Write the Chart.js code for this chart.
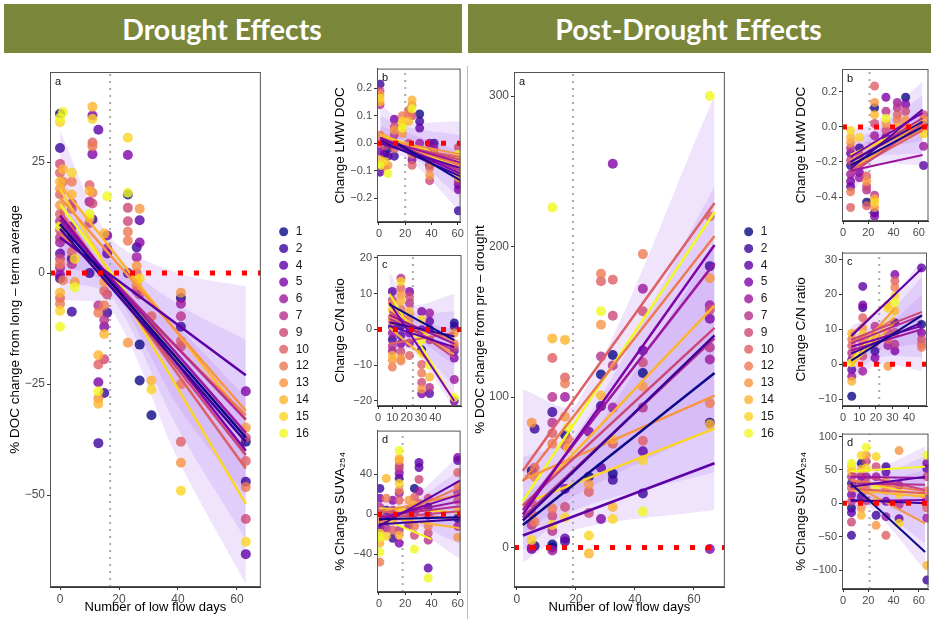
<!DOCTYPE html>
<html>
<head>
<meta charset="utf-8">
<script src="https://cdn.jsdelivr.net/npm/chart.js@4.4.0/dist/chart.umd.min.js"></script>
<style>
  body { margin: 0; width: 931px; height: 619px; overflow: hidden; background: #fff; position: relative; }
  .banner { position: absolute; top: 4px; height: 49px; background: #7a873b; color: #fff; box-sizing: border-box;
    font: bold 28.5px Lato, sans-serif; display: flex; align-items: center; justify-content: center; padding-right: 22px; }
  canvas { position: absolute; }
  .sep { position: absolute; left: 467px; top: 66px; width: 1px; height: 553px; background: #bbb; }
</style>
</head>
<body>
<div class="banner" style="left:4px;width:458px">Drought Effects</div>
<div class="banner" style="left:468px;width:463px">Post-Drought Effects</div>
<div class="sep"></div>
<canvas id="dA" width="320" height="559" style="left:0;top:60px"></canvas>
<canvas id="dB" width="139" height="180" style="left:327px;top:60px"></canvas>
<canvas id="dC" width="139" height="179" style="left:327px;top:245px"></canvas>
<canvas id="dD" width="139" height="188" style="left:327px;top:422px"></canvas>
<canvas id="pA" width="320" height="559" style="left:464px;top:60px"></canvas>
<canvas id="pB" width="143" height="179" style="left:790px;top:60px"></canvas>
<canvas id="pC" width="143" height="180" style="left:790px;top:244px"></canvas>
<canvas id="pD" width="143" height="182" style="left:790px;top:425px"></canvas>
<script>
// sites and plasma colours
const sites = [1, 2, 4, 5, 6, 7, 9, 10, 12, 13, 14, 15, 16];
const siteColors = ["#0d0887", "#3a049a", "#5c01a6", "#7e03a8", "#9c179e", "#b52f8c", "#cc4778",
  "#de5f65", "#ed7953", "#f89540", "#fdb42f", "#fbd524", "#f0f921"];

// ---- Drought effects ----
// points: [site, low flow days, value]
const dA_pts = [
  [1,0,35.9],[16,0,35],[15,0,34],[2,0,28.2],[9,0,24.6],[10,0,22.6],[14,0,20.6],[13,0,19],[10,0,17.7],[13,0,15.3],
  [10,0,13.3],[7,0,11.7],[16,0,10.5],[9,0,9.7],[7,0,8],[6,0,6.9],[4,0,4.4],[9,0,3.2],[12,0,2],[6,0,1.2],[5,0,-0.4],
  [2,0,-1.2],[14,0,-4.4],[10,0,-5.6],[12,0,-6.9],[15,0,-8.5],[16,0,-12.1],
  [16,1,36.3],[14,1,23.4],[12,1,20.6],[12,1,-1.6],
  [15,4,22.6],[12,4,20.6],[14,4,17.7],[7,4,15.7],[9,4,14.5],[5,4,10.5],[4,4,8],[10,4,4.8],[2,4,3.2],[7,4,2],[2,4,-8.7],
  [15,5,3.2],[13,5,-2],[16,5,-3.2],
  [10,10,19.8],[14,10,18.5],[6,10,16.1],[16,10,13.3],[15,10,12.5],[9,10,11.3],[2,10,0],
  [14,11,37.5],[5,11,35.5],[15,11,34.7],[10,11,29.4],[12,11,28.6],[5,11,26.8],[12,11,18.1],[9,11,15.7],[2,11,12.1],
  [4,13,32.3],[7,13,-7.3],[12,13,-8.9],[14,13,-18.5],[10,13,-20.6],[5,13,-24.6],[16,13,-26.6],[13,13,-28.2],[14,13,-29.4],[2,13,-38.3],
  [14,15,8.9],[13,15,-2],[10,15,-4],[12,15,-7.3],[7,15,-10.5],[5,15,-12.1],[14,15,-13.7],[9,15,-19.4],[2,15,-27],
  [16,16,17.3],[5,16,8.5],[6,16,5.6],[4,16,4.4],[9,16,-4.8],[2,16,-8.9],
  [15,23,30.5],[5,23,26.6],[16,23,18.1],[1,23,17.7],[9,23,14.7],[9,23,11.7],[12,23,9.3],[12,23,7.3],[4,23,0],[13,23,-15.7],
  [2,26,5.8],[6,26,3.6],[13,26,1.6],[10,26,0],[14,26,-1.6],[12,26,-2.8],[7,26,-4],
  [13,27,14.5],[4,27,11.9],[5,27,6.9],[15,27,-1.2],[9,27,-4.8],[1,27,-16.1],[1,27,-24.2],
  [10,31,-9.7],[14,31,-24.2],[15,31,-26.2],[1,31,-32],
  [13,41,-4.4],[1,41,-5.6],[6,41,-6.9],[7,41,-9.7],[2,41,-12.1],[10,41,-15.3],[9,41,-16.5],[12,41,-25],[10,41,-38],[13,41,-42.7],[15,41,-49],
  [5,63,-26.6],[13,63,-34.8],[9,63,-37.1],[1,63,-38],[10,63,-42.3],[2,63,-47],[12,63,-48.2],[9,63,-55.4],[15,63,-60.5],[4,63,-63.3]
];
// fitted lines: [site, x0, y0, x1, y1]
const dA_lines = [
  [1,0,11,63,-37],[2,0,10,63,-38],[4,0,8,63,-23],[5,0,13,63,-40],[6,0,12,63,-36],[7,0,11,63,-33],[9,0,12,63,-41],
  [10,0,14,63,-44],[12,0,9,63,-32],[13,0,17,63,-31],[14,0,20,63,-33],[15,0,19,63,-52],[16,0,15.5,41,-21]
];
const dA_bandX = [0, 17, 40, 63];
const dA_bandLo = [[2,-3,-30,-50],[-2,-5,-35,-60],[-6,-8,-42,-70]];
const dA_bandHi = [[16,3,-12,-28],[22,5,-7,-15],[32,8,0,-3]];

const dB_pts = [
  [2,0.8,0.214],[9,0.8,0.19],[13,0.8,0.176],[15,0.8,0.163],[14,0.8,0.15],[7,0.8,0.14],[12,0.8,0.03],[10,0.8,0],
  [5,0.8,-0.03],[14,0.8,-0.06],[16,0.8,-0.08],[4,0.8,-0.105],
  [13,4.4,0.017],[9,4.4,-0.01],[2,4.4,-0.04],[15,4.4,-0.066],[12,4.4,-0.085],
  [1,6.8,-0.02],[4,6.8,-0.047],[13,6.8,-0.08],[16,6.8,-0.11],
  [5,11.7,0.087],[9,11.7,0.06],[13,11.7,0.048],[7,11.7,0.03],[6,11.7,0],[10,11.7,-0.02],[2,11.7,-0.047],
  [12,17.8,0.1],[15,17.8,0.08],[14,17.8,0.068],[16,17.8,0.055],[13,17.8,0.036],
  [10,22.7,0.12],[12,22.7,0.106],[14,22.7,0.08],[9,22.7,0],
  [14,25.2,0.157],[13,25.2,0.138],[16,25.2,0.125],[9,25.2,0.1],[12,25.2,-0.04],[5,25.2,-0.06],[10,25.2,-0.08],
  [1,31,0.106],[2,31,0.08],[4,31,0.055],[6,31,0],[7,31,-0.03],
  [5,38.6,0],[9,38.6,-0.03],[10,38.6,-0.066],[4,38.6,-0.08],[12,38.6,-0.09],[13,38.6,-0.117],[9,38.6,-0.136],
  [2,42,0],[6,42,-0.02],[13,42,-0.04],
  [9,60.5,-0.015],[16,60.5,-0.04],[15,60.5,-0.066],[12,60.5,-0.085],[16,60.5,-0.104],[14,60.5,-0.124],[7,60.5,-0.136],
  [4,60.5,-0.15],[5,60.5,-0.168],[2,60.5,-0.245]
];
const dB_lines = [
  [1,12,0.005,62,-0.135],[2,1,0.01,62,-0.12],[4,1,0,62,-0.09],[5,1,0.02,62,-0.11],[6,1,0.015,62,-0.07],[7,1,0.02,62,-0.1],
  [9,1,0.01,62,-0.06],[10,1,0,62,-0.05],[12,1,0.02,62,-0.08],[13,1,0.015,62,-0.04],[14,1,0.03,62,-0.075],[15,1,0.025,62,-0.09],[16,1,0.03,62,-0.065]
];
const dB_bandX = [1, 20, 62];
const dB_bandLo = [[-0.01,-0.01,-0.15],[-0.04,-0.03,-0.2],[-0.07,-0.05,-0.25]];
const dB_bandHi = [[0.06,0.04,-0.03],[0.1,0.06,0.03],[0.14,0.08,0.08]];

const dC_pts = [
  [4,10,10.6],[9,10,8.2],[13,10,7.2],[14,10,5.4],[10,10,3.5],[12,10,2.2],[2,10,0.8],[6,10,-1],[2,10,-2.8],[7,10,-4.6],
  [6,10,-6],[14,10,-7.3],[13,10,-8.6],[12,10,-10.5],
  [7,16,14.3],[15,16,13.4],[10,16,11.5],[13,16,9.7],[14,16,7.9],[12,16,5.6],[6,16,3.3],[2,16,1],[4,16,-1.7],[5,16,-4],
  [9,16,-6.2],[13,16,-8],[12,16,-8.8],
  [5,22,10.6],[9,22,9.2],[7,22,7.3],[14,22,5],[12,22,3.1],[2,22,0.9],[5,22,-1],[6,22,-3.8],[10,22,-7.3],
  [5,30.5,5],[15,30.5,2.8],[4,30.5,-0.1],[16,30.5,-2.9],[1,30.5,-5.7],[16,30.5,-6.6],[10,30.5,-9.8],[12,30.5,-12.2],
  [9,30.5,-14.8],[13,30.5,-16.7],[5,30.5,-18],
  [6,36,4.6],[4,36,2.3],[2,36,0],[7,36,-2.9],[16,36,-10],[14,36,-13.3],[7,36,-16.2],[4,36,-17.9],
  [1,53.3,1.8],[2,53.3,0.8],[13,53.3,-1],[12,53.3,-4],[9,53.3,-5],[4,53.3,-6],[5,53.3,-8],[6,53.3,-14],[16,53.3,-19],[5,53.3,-20]
];
const dC_lines = [
  [1,8,7,53.3,-3],[2,8,2,53.3,-2],[4,8,1,53.3,-5],[5,8,7.5,53.3,-20],[6,8,4,53.3,-4],[7,8,3,53.3,-6],[9,8,5,53.3,-8],
  [10,8,-4,53.3,-1],[12,8,2.5,53.3,-3],[13,8,3.5,53.3,-7],[14,8,0.5,36,-9],[15,8,6,36,-2],[16,8,10,53.3,-20]
];
const dC_bandX = [8, 24, 53.3];
const dC_bandLo = [[-1,-2,-10],[-4,-4,-16],[-7,-6,-22]];
const dC_bandHi = [[8,3,0],[12,5,5],[16,7,10]];

const dD_pts = [
  [2,0.7,26],[5,0.7,16],[7,0.7,7],[10,0.7,1],[13,0.7,-6],[4,0.7,-13],[15,0.7,-19],[16,0.7,-23],[14,0.7,-29],[16,0.7,-38],[12,0.7,-48],
  [14,5.6,36],[12,5.6,16],[2,5.6,4],[9,5.6,-6],[7,5.6,-14],[15,5.6,-22],
  [5,10.5,14],[7,10.5,4],[13,10.5,-6],[10,10.5,-16],[2,10.5,-24],
  [16,15.4,64],[14,15.4,56],[13,15.4,54],[9,15.4,49],[7,15.4,46],[5,15.4,41],[2,15.4,36],[15,15.4,31],[12,15.4,24],
  [6,15.4,21],[10,15.4,14],[14,15.4,4],[7,15.4,-16],[14,15.4,-21],[5,15.4,-29],
  [13,22.7,14],[9,22.7,4],[12,22.7,-6],[6,22.7,-11],
  [1,27,26],[10,27,17],[14,27,9],[7,27,1],[12,27,-12],[9,27,-21],[16,27,-35],
  [4,30.5,52],[4,30.5,47],[9,30.5,35],[6,30.5,23],[10,30.5,11],
  [9,37.5,16],[2,37.5,7],[5,37.5,-1],[12,37.5,-12],[9,37.5,-19],[7,37.5,-26],[4,37.5,-54],[16,37.5,-64],
  [5,60,57],[4,60,54],[10,60,42],[12,60,29],[7,60,22],[9,60,14],[14,60,4],[1,60,-4],[6,60,-12],[13,60,-23]
];
const dD_lines = [
  [1,0,-5,62,-3],[2,0,-10,62,-5],[4,0,-12,62,34],[5,0,-6,62,20],[6,0,-3,62,13],[7,0,-2,62,8],[9,0,-4,62,3],
  [10,0,3,62,-5],[12,0,-8,62,27],[13,0,2,62,20],[14,0,-2,62,-14],[15,0,6,62,2],[16,0,-3,40,-25]
];
const dD_bandX = [0, 20, 62];
const dD_bandLo = [[-15,-5,-15],[-22,-8,-30],[-30,-12,-45]];
const dD_bandHi = [[5,5,30],[10,8,45],[15,12,60]];

// ---- Post-drought effects ----
const pA_pts = [
  [13,5,83],[1,5,51],[9,5,30],[10,5,22.5],[7,5,15],[15,5,5],[6,5,0],[4,5,-1],
  [2,6,79],[10,6,53],[12,6,47],[12,6,17],[1,6,1],
  [16,12,226],[14,12,139],[10,12,126],[7,12,100],[2,12,90],[7,12,83],[10,12,76],[12,12,69],[12,12,26],[9,12,21],
  [15,12,15],[7,12,11],[1,12,2],[1,12,0],[6,12,-2],
  [14,16.3,138],[10,16.3,113],[12,16.3,109],[6,16.3,100],[13,16.3,87],[1,16.3,75],[9,16.3,68],[5,16.3,39],[9,16.3,27],
  [15,16.3,20],[4,16.3,6],[2,16.3,4],
  [16,17.3,80],[12,17.3,72],[14,17.3,66],
  [5,24.4,77],[1,24.4,47],[13,24.4,42],[10,24.4,37],[9,24.4,23],[15,24.4,8],[14,24.4,-4],
  [12,28.5,182],[10,28.5,177],[16,28.5,157],[13,28.5,148],[7,28.5,127],[1,28.5,115],[14,28.5,101],[2,28.5,94],[4,28.5,53],[5,28.5,19],
  [5,32.5,255],[10,32.5,178],[9,32.5,154],[1,32.5,128],[7,32.5,121],[6,32.5,93],[14,32.5,72],[10,32.5,69],[1,32.5,49],
  [2,32.5,45],[14,32.5,27],[15,32.5,19],
  [12,42.7,195],[6,42.7,172],[9,42.7,157],[4,42.7,131],[9,42.7,123],[1,42.7,116],[13,42.7,107],[7,42.7,93],[10,42.7,71],
  [4,42.7,64],[15,42.7,58],[2,42.7,36],[16,42.7,24],
  [16,65.4,300],[10,65.4,220],[2,65.4,187],[13,65.4,179],[6,65.4,161],[9,65.4,158],[5,65.4,152],[7,65.4,133],[6,65.4,125],
  [12,65.4,96],[1,65.4,83],[14,65.4,82],[5,65.4,-1]
];
const pA_lines = [
  [1,2,15,67,116],[2,2,18,67,141],[4,2,8,67,56],[5,2,22,67,201],[6,2,25,67,189],[7,2,20,67,139],[9,2,28,67,146],
  [10,2,51,67,229],[12,2,44,67,207],[13,2,45,67,101],[14,2,27,67,161],[15,2,29,67,79],[16,2,31,67,223]
];
const pA_bandX = [2, 20, 67];
const pA_bandLo = [[8,35,80],[-2,25,50],[-10,12,25]];
const pA_bandHi = [[35,60,200],[60,75,240],[105,95,300]];

const pB_pts = [
  [15,6,-0.02],[14,6,-0.06],[13,6,-0.09],[7,6,-0.12],[4,6,-0.15],[9,6,-0.19],[2,6,-0.22],[6,6,-0.27],[5,6,-0.31],
  [4,6,-0.34],[12,6,-0.37],[10,6,-0.46],
  [15,13,-0.06],[2,13,-0.12],[9,13,-0.16],[13,13,-0.21],[5,13,-0.26],[6,13,-0.29],
  [10,18.7,-0.28],[13,18.7,-0.31],[9,18.7,-0.34],[7,18.7,-0.36],[1,18.7,-0.43],[10,18.7,-0.45],
  [10,25,0.234],[13,25,0.14],[1,25,0.11],[14,25,0.07],[9,25,0.02],[6,25,-0.05],[7,25,-0.39],[14,25,-0.41],[15,25,-0.43],
  [13,25,-0.46],[2,25,-0.49],[5,25,-0.51],
  [5,34,0.17],[7,34,0.09],[16,34,0.05],[13,34,0.02],[9,34,-0.02],[4,34,-0.06],
  [6,43,0.14],[7,43,0.11],[10,43,0.07],[12,43,0.04],[14,43,0],[15,43,-0.04],
  [1,49.6,0.17],[5,49.6,0.13],[9,49.6,0.09],[13,49.6,0.04],[12,49.6,0.01],[16,49.6,-0.03],
  [9,63.8,0.07],[13,63.8,0.04],[4,63.8,0.01],[14,63.8,-0.01],[15,63.8,-0.04],[6,63.8,-0.11],[4,63.8,-0.22]
];
const pB_lines = [
  [1,6,-0.22,63,0],[2,6,-0.2,63,0.03],[4,6,-0.24,63,0.1],[5,6,-0.17,63,0.08],[6,6,-0.25,63,-0.16],[7,6,-0.2,63,0.05],
  [9,6,-0.27,63,0.02],[10,6,-0.25,63,-0.02],[12,6,-0.22,63,-0.01],[13,6,-0.19,63,0.01],[14,6,-0.24,63,0],[15,6,-0.16,63,0.02],[16,6,-0.16,63,0.03]
];
const pB_bandX = [6, 24, 63];
const pB_bandLo = [[-0.28,-0.14,-0.08],[-0.33,-0.18,-0.15],[-0.4,-0.22,-0.22]];
const pB_bandHi = [[-0.14,-0.06,0.1],[-0.08,-0.02,0.18],[-0.02,0.02,0.26]];

const pC_pts = [
  [14,5.3,8.9],[12,5.3,7.1],[10,5.3,5.3],[7,5.3,3.2],[5,5.3,1.3],[16,5.3,0.4],[4,5.3,-1.6],[6,5.3,-3.5],[14,5.3,-4.9],[1,5.3,-9.2],
  [4,12,22.3],[5,12,17],[2,12,16.2],[10,12,13.3],[13,12,10.4],[15,12,8.5],[12,12,6.1],[7,12,4.2],[9,12,2.3],[6,12,-2],
  [7,19.4,10.9],[13,19.4,8],[9,19.4,6.1],[2,19.4,3.7],[5,19.4,1.8],
  [14,27.3,17],[15,27.3,16],[9,27.3,9],[10,27.3,7],[6,27.3,5.3],[13,27.3,-0.6],
  [5,31.5,25.7],[10,31.5,23.9],[12,31.5,22],[15,31.5,19.6],[16,31.5,17.7],[14,31.5,15.3],[2,31.5,11.9],[9,31.5,9.1],[7,31.5,5.7],[5,31.5,3.8],
  [4,47.7,27.6],[1,47.7,11.4],[5,47.7,9],[9,47.7,7.1],[10,47.7,5.7],[12,47.7,4.8]
];
const pC_lines = [
  [1,5,1,48,14],[2,5,3,48,12],[4,5,8,48,27.5],[5,5,5,48,11],[6,5,4,48,10],[7,5,6,48,14],[9,5,7,48,15],
  [10,5,8.5,31.5,20],[12,5,6,31.5,13],[13,5,2,31.5,16],[14,5,-0.5,31.5,12],[15,5,0,31.5,14],[16,5,1,31.5,16]
];
const pC_bandX = [5, 22, 48];
const pC_bandLo = [[0,4,6],[-3,2,2],[-5,0,-2]];
const pC_bandHi = [[5,9,20],[8,12,25],[11,15,30]];

const pD_pts = [
  [16,6.7,60],[15,6.7,55],[14,6.7,48],[7,6.7,40],[2,6.7,30],[10,6.7,23],[5,6.7,13],[9,6.7,3],[1,6.7,-7],[4,6.7,-14],[9,6.7,-28],[2,6.7,-48],
  [15,14.5,72],[1,14.5,60],[14,14.5,51],[5,14.5,40],[12,14.5,25],[4,14.5,10],[13,14.5,-7],[14,14.5,-18],
  [16,18.4,84],[13,18.4,72],[9,18.4,63],[15,18.4,53],[6,18.4,40],[10,18.4,30],[12,18.4,20],[7,18.4,4],
  [15,26.2,70],[9,26.2,55],[6,26.2,40],[16,26.2,24],[14,26.2,2],[2,26.2,-18],[13,26.2,-33],
  [2,34,55],[4,34,47],[13,34,32],[12,34,20],[5,34,3],[6,34,-20],[10,34,-48],
  [13,44.4,79],[6,44.4,27],[15,44.4,14],[7,44.4,-2],[4,44.4,-23],[15,44.4,-30],
  [16,66.4,72],[5,66.4,60],[4,66.4,52],[9,66.4,40],[12,66.4,19],[7,66.4,7],[10,66.4,-7],[6,66.4,-22],[14,66.4,-93],[2,66.4,-115]
];
const pD_lines = [
  [1,6,30,65,-73],[2,6,5,65,0],[4,6,25,65,40],[5,6,3,65,5],[6,6,40,65,38],[7,6,30,65,28],[9,6,45,65,20],
  [10,6,22,65,15],[12,6,35,65,18],[13,6,30,65,-30],[14,6,20,65,10],[15,6,35,65,12],[16,6,48,65,55]
];
const pD_bandX = [6, 22, 65];
const pD_bandLo = [[5,5,-30],[-8,-2,-60],[-18,-8,-100]];
const pD_bandHi = [[40,30,50],[55,40,70],[68,50,85]];

// tick labels
const days4 = [0, 20, 40, 60];
const days5 = [0, 10, 20, 30, 40];

Chart.defaults.font.family = '"Liberation Sans", Arial, sans-serif';

function rgba(hex, a) {
  const n = parseInt(hex.slice(1), 16);
  return "rgba(" + (n >> 16) + "," + ((n >> 8) & 255) + "," + (n & 255) + "," + a + ")";
}

function fmt(v, dec) {
  const s = Math.abs(v).toFixed(dec);
  return (v < 0 ? "\u2212" : "") + s;
}

// box round the panel and the small panel letter
const framePlugin = {
  id: "frame",
  afterDraw(chart, args, opts) {
    const a = chart.chartArea, ctx = chart.ctx;
    ctx.save();
    ctx.strokeStyle = "#555";
    ctx.lineWidth = 1;
    ctx.strokeRect(a.left + 0.5, a.top + 0.5, a.right - a.left - 1, a.bottom - a.top - 1);
    ctx.fillStyle = "#111";
    ctx.font = '11px "Liberation Sans", Arial, sans-serif';
    ctx.textBaseline = "top";
    ctx.fillText(opts.letter || "", a.left + 5, a.top + 4);
    ctx.restore();
  }
};

// nudge the legend to where ggplot puts it
const legendShift = {
  id: "legendShift",
  afterLayout(chart, args, opts) {
    const lg = chart.legend;
    if (!lg || !opts.dx) return;
    lg.left += opts.dx; lg.right += opts.dx;
    lg.top += opts.dy; lg.bottom += opts.dy;
  }
};

function makePanel(id, o) {
  const ds = [];
  o.bandLo.forEach(function (lo, k) {
    ds.push({ data: o.bandX.map((x, i) => ({ x: x, y: lo[i] })), showLine: true, tension: 0.3,
      pointRadius: 0, borderWidth: 0, fill: false, order: 60 });
    ds.push({ data: o.bandX.map((x, i) => ({ x: x, y: o.bandHi[k][i] })), showLine: true, tension: 0.3,
      pointRadius: 0, borderWidth: 0, fill: "-1", backgroundColor: "rgba(160,95,235,0.17)", order: 60 });
  });
  ds.push({ data: [{ x: o.vx, y: o.yr[0] }, { x: o.vx, y: o.yr[1] }], showLine: true, pointRadius: 0,
    borderColor: "#aaa", borderWidth: 2, borderDash: [2, 5], order: 50 });
  sites.forEach(function (s, i) {
    ds.push({
      isSite: true, label: String(s),
      data: o.pts.filter(p => p[0] === s).map(p => ({ x: p[1], y: p[2] })),
      pointRadius: o.r, pointStyle: "circle",
      backgroundColor: rgba(siteColors[i], 0.8), borderColor: rgba(siteColors[i], 0.8), borderWidth: 0,
      order: 42 - i
    });
  });
  o.lines.forEach(function (l) {
    const i = sites.indexOf(l[0]);
    ds.push({ data: [{ x: l[1], y: l[2] }, { x: l[3], y: l[4] }], showLine: true, pointRadius: 0,
      borderColor: siteColors[i], borderWidth: o.lw, order: 20 });
  });
  ds.push({ data: [{ x: o.xr[0], y: 0 }, { x: o.xr[1], y: 0 }], showLine: true, pointRadius: 0,
    borderColor: "#ff0000", borderWidth: 5, borderDash: [5, 11], borderCapStyle: "butt", order: 5 });

  const tickOpts = (dec) => ({ color: "#4d4d4d", font: { size: o.small ? 11 : 12 }, padding: 2,
    autoSkip: false, maxRotation: 0, callback: v => fmt(v, dec) });
  const gridOpts = { display: true, drawOnChartArea: false, tickLength: 3, color: "#333" };

  return new Chart(document.getElementById(id), {
    type: "scatter",
    data: { datasets: ds },
    options: {
      responsive: false, animation: false, events: [],
      layout: { padding: { top: o.padTop, right: o.padRight, left: 0, bottom: 0 } },
      scales: {
        x: {
          type: "linear", min: o.xr[0], max: o.xr[1],
          afterBuildTicks: s => { s.ticks = o.xTicks.map(v => ({ value: v })); },
          afterFit: s => { s.height = o.xH; },
          ticks: tickOpts(0), grid: gridOpts, border: { color: "#333" },
          title: { display: !!o.xTitle, text: o.xTitle, color: "#000", font: { size: 13 }, padding: { top: 0, bottom: 4 } }
        },
        y: {
          type: "linear", min: o.yr[0], max: o.yr[1],
          afterBuildTicks: s => { s.ticks = o.yTicks.map(v => ({ value: v })); },
          afterFit: s => { s.width = o.yW; },
          ticks: tickOpts(o.dec || 0), grid: gridOpts, border: { color: "#333" },
          title: { display: true, text: o.yTitle, color: "#000", font: { size: 13.5 }, padding: { top: o.tPad, bottom: 0 } }
        }
      },
      plugins: {
        tooltip: { enabled: false },
        frame: { letter: o.letter },
        legendShift: { dx: o.dx || 0, dy: o.dy || 0 },
        legend: {
          display: !!o.legend, position: "right", fullSize: false,
          labels: {
            usePointStyle: true, boxWidth: 12, boxHeight: 6.4, padding: 4.8, color: "#1a1a1a",
            font: { size: 12 },
            filter: (item, data) => !!data.datasets[item.datasetIndex].isSite,
            sort: (a, b) => a.datasetIndex - b.datasetIndex
          }
        }
      }
    },
    plugins: [framePlugin, legendShift]
  });
}

makePanel("dA", { pts: dA_pts, lines: dA_lines, bandX: dA_bandX, bandLo: dA_bandLo, bandHi: dA_bandHi,
  xr: [-3.4, 68.1], yr: [-70.7, 45.3], xTicks: days4, yTicks: [-50, -25, 0, 25], vx: 17, letter: "a",
  yTitle: "% DOC change from long \u2013 term average", xTitle: "Number of low flow days",
  yW: 50, xH: 32, padTop: 12, padRight: 13, tPad: 7, r: 5, lw: 2.5, legend: true, dx: 12, dy: 3 });
makePanel("dB", { pts: dB_pts, lines: dB_lines, bandX: dB_bandX, bandLo: dB_bandLo, bandHi: dB_bandHi,
  xr: [-1.5, 62.2], yr: [-0.286, 0.271], xTicks: days4, yTicks: [-0.2, -0.1, 0, 0.1, 0.2], vx: 20, letter: "b",
  yTitle: "Change LMW DOC", yW: 50, xH: 18, padTop: 8, padRight: 2, tPad: 5, r: 4.5, lw: 2, small: true, dec: 1 });
makePanel("dC", { pts: dC_pts, lines: dC_lines, bandX: dC_bandX, bandLo: dC_bandLo, bandHi: dC_bandHi,
  xr: [-0.7, 58.3], yr: [-21.4, 20.8], xTicks: days5, yTicks: [-20, -10, 0, 10, 20], vx: 24.4, letter: "c",
  yTitle: "Change C/N ratio", yW: 50, xH: 18, padTop: 10, padRight: 2, tPad: 5, r: 4.5, lw: 2, small: true });
makePanel("dD", { pts: dD_pts, lines: dD_lines, bandX: dD_bandX, bandLo: dD_bandLo, bandHi: dD_bandHi,
  xr: [-1.5, 62.2], yr: [-78, 84], xTicks: days4, yTicks: [-40, 0, 40], vx: 18, letter: "d",
  yTitle: "% Change SUVA\u2082\u2085\u2084", yW: 50, xH: 18, padTop: 8, padRight: 2, tPad: 5, r: 4.5, lw: 2, small: true });

makePanel("pA", { pts: pA_pts, lines: pA_lines, bandX: pA_bandX, bandLo: pA_bandLo, bandHi: pA_bandHi,
  xr: [-1, 70.5], yr: [-26.2, 316], xTicks: days4, yTicks: [0, 100, 200, 300], vx: 19, letter: "a",
  yTitle: "% DOC change from pre \u2013 drought", xTitle: "Number of low flow days",
  yW: 50, xH: 32, padTop: 12, padRight: 13, tPad: 8, r: 5, lw: 2.5, legend: true, dx: 13, dy: 3 });
makePanel("pB", { pts: pB_pts, lines: pB_lines, bandX: pB_bandX, bandLo: pB_bandLo, bandHi: pB_bandHi,
  xr: [-0.8, 67.7], yr: [-0.537, 0.331], xTicks: days4, yTicks: [-0.4, -0.2, 0, 0.2], vx: 21, letter: "b",
  yTitle: "Change LMW DOC", yW: 52, xH: 18, padTop: 9, padRight: 3, tPad: 3, r: 4.5, lw: 2, small: true, dec: 1 });
makePanel("pC", { pts: pC_pts, lines: pC_lines, bandX: pC_bandX, bandLo: pC_bandLo, bandHi: pC_bandHi,
  xr: [-0.6, 51], yr: [-12, 32], xTicks: days5, yTicks: [-10, 0, 10, 20, 30], vx: 22, letter: "c",
  yTitle: "Change C/N ratio", yW: 52, xH: 18, padTop: 8, padRight: 6, tPad: 3, r: 4.5, lw: 2, small: true });
makePanel("pD", { pts: pD_pts, lines: pD_lines, bandX: pD_bandX, bandLo: pD_bandLo, bandHi: pD_bandHi,
  xr: [-0.8, 67.7], yr: [-128.4, 104.5], xTicks: days4, yTicks: [-100, -50, 0, 50, 100], vx: 21, letter: "d",
  yTitle: "% Change SUVA\u2082\u2085\u2084", yW: 52, xH: 18, padTop: 8, padRight: 3, tPad: 3, r: 4.5, lw: 2, small: true });
</script>
</body>
</html>
